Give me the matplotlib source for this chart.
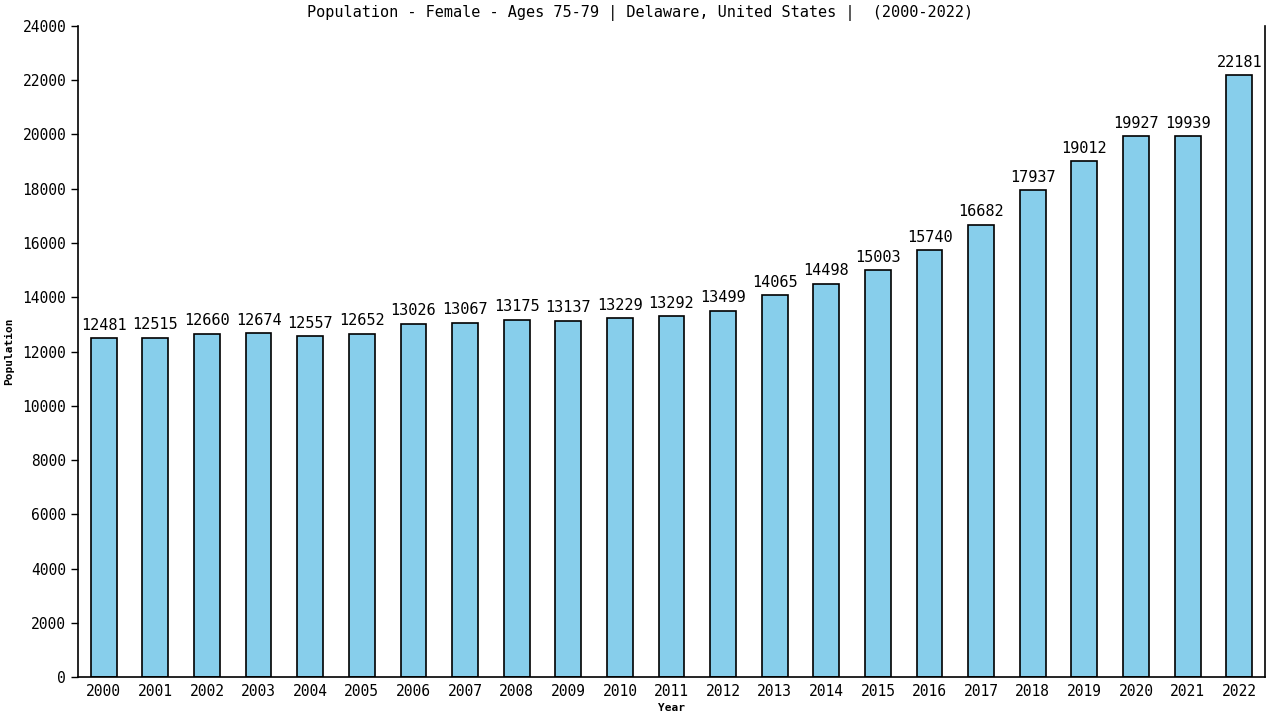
import matplotlib
matplotlib.use("Agg")
import matplotlib.pyplot as plt

years = [str(y) for y in range(2000, 2023)]
values = [12481, 12515, 12660, 12674, 12557, 12652, 13026, 13067, 13175, 13137,
          13229, 13292, 13499, 14065, 14498, 15003, 15740, 16682, 17937, 19012,
          19927, 19939, 22181]
yticks = list(range(0, 24001, 2000))

plt.rcParams['font.family'] = ['DejaVu Sans Mono']

fig = plt.figure(figsize=(12.8, 7.2), dpi=100)
ax = fig.add_axes([0.0609, 0.0597, 0.9274, 0.9042])

x = list(range(len(years)))
ax.bar(x, values, width=0.5, color='#87CEEB', edgecolor='black', linewidth=1.2)
for xi, v in zip(x, values):
    ax.text(xi, v + 200, str(v), ha='center', va='bottom', fontsize=11)

ax.set_xlim(-0.5, len(years) - 0.5)
ax.set_ylim(0, 24000)
ax.set_yticks(yticks)
ax.set_yticklabels([str(t) for t in yticks], fontsize=10.5)
ax.set_xticks(x)
ax.set_xticklabels(years, fontsize=10.5)
ax.tick_params(axis='x', length=0, pad=5)
ax.tick_params(axis='y', length=5, width=1, direction='out')
ax.spines['top'].set_visible(False)
for s in ['left', 'bottom', 'right']:
    ax.spines[s].set_linewidth(1.2)

fig.text(0.5, 0.982, 'Population - Female - Ages 75-79 | Delaware, United States |  (2000-2022)',
         fontsize=11, ha='center', va='center')
ax.set_xlabel('Year', fontsize=8, fontweight='bold', labelpad=3)
ax.set_ylabel('Population', fontsize=8, fontweight='bold', labelpad=6)

fig.savefig('out.png', dpi=100)
